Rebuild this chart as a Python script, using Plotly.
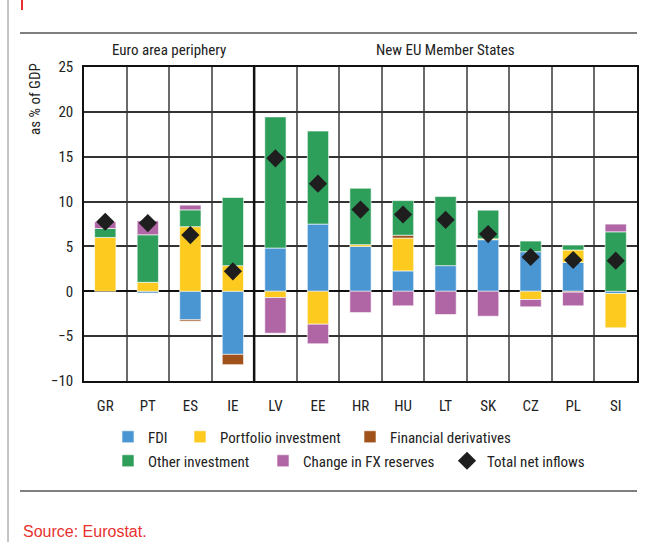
import plotly.graph_objects as go

categories = ["GR", "PT", "ES", "IE", "LV", "EE", "HR", "HU", "LT", "SK", "CZ", "PL", "SI"]
fdi = [0, -0.2, -3.18, -7.03, 4.82, 7.49, 5.0, 2.27, 2.86, 5.75, 4.41, 3.22, -0.25]
portfolio = [6.0, 1.0, 7.2, 2.86, -0.7, -3.67, 0.2, 3.66, 0, 0.1, -0.92, 1.38, -3.82]
derivatives = [0, 0, -0.15, -1.15, 0, 0, 0, 0.32, 0, 0, 0, -0.1, 0]
other = [1.0, 5.3, 1.88, 7.59, 14.62, 10.37, 6.29, 3.86, 7.7, 3.19, 1.19, 0.55, 6.63]
fx_reserves = [0.75, 1.55, 0.52, 0, -3.97, -2.18, -2.37, -1.62, -2.59, -2.78, -0.81, -1.52, 0.86]
total = [7.75, 7.6, 6.27, 2.22, 14.82, 12.0, 9.11, 8.56, 7.97, 6.38, 3.82, 3.49, 3.41]
y_ticks = [-10, -5, 0, 5, 10, 15, 20, 25]
group_labels = ["Euro area periphery", "New EU Member States"]

FONT = "Liberation Sans Narrow, Roboto Condensed, DejaVu Sans Condensed, Arial Narrow, sans-serif"
xs = list(range(len(categories)))

W, H = 646, 542
L, R, T, B = 84, 9, 67, 161
pw, ph = W - L - R, H - T - B

def px(x):
    return (x - L) / pw

def py(y):
    return (H - B - y) / ph

def cx(x):
    return x / W

def cy(y):
    return (H - y) / H

def nz(v):
    return [None if a == 0 else a for a in v]

# (name, values, colour, legend id, legend symbol centre in px (x, y))
series = [
    ("FDI", fdi, "#4A96D2", "legend", (129, 437)),
    ("Portfolio investment", portfolio, "#FDCB1F", "legend2", (201, 437)),
    ("Financial derivatives", derivatives, "#A0521A", "legend3", (371, 437)),
    ("Other investment", other, "#2E9E5B", "legend4", (129, 461)),
    ("Change in FX reserves", fx_reserves, "#B065A5", "legend5", (284, 461)),
]
total_legend = ("legend6", (468, 461))

fig = go.Figure()
for name, vals, col, lg, _ in series:
    fig.add_trace(go.Bar(
        x=xs, y=nz(vals), name=name, width=0.5,
        marker=dict(color=col, line=dict(color="rgba(255,255,255,0.6)", width=1)),
        legend=lg,
    ))
fig.add_trace(go.Scatter(
    x=xs, y=total, name="Total net inflows", mode="markers",
    marker=dict(symbol="diamond", size=14, color="#1E1E1E"),
    legend=total_legend[0],
))

def leg(pos):
    return dict(orientation="h", xref="container", yref="container", xanchor="left", yanchor="middle",
                x=cx(pos[0] - 21), y=cy(pos[1]),
                font=dict(family=FONT, size=15, color="#222"),
                itemwidth=30, bgcolor="rgba(0,0,0,0)")

legends = {lg: leg(pos) for _, _, _, lg, pos in series}
legends[total_legend[0]] = leg(total_legend[1])

fig.update_layout(
    width=W, height=H,
    margin=dict(l=L, r=R, t=T, b=B, autoexpand=False),
    paper_bgcolor="white", plot_bgcolor="white",
    barmode="relative",
    font=dict(family=FONT, size=15, color="#222"),
    showlegend=True,
    xaxis=dict(
        range=[-0.5, len(categories) - 0.5],
        tickmode="array", tickvals=xs, ticktext=categories,
        showgrid=False, zeroline=False, ticks="", automargin=False,
        showline=True, linecolor="#111", linewidth=1.5, mirror=True,
        tickfont=dict(family=FONT, size=15, color="#222"),
        ticklabelstandoff=10,
        minor=dict(tick0=0.5, dtick=1, showgrid=True, gridcolor="#6a6a6a", gridwidth=1.5, ticks=""),
    ),
    yaxis=dict(
        range=[-10, 25], tickmode="array", tickvals=y_ticks,
        ticktext=[("\u2212" + str(abs(v))) if v < 0 else str(v) for v in y_ticks],
        showgrid=True, gridcolor="#333", gridwidth=1.5, automargin=False,
        zeroline=True, zerolinecolor="#111", zerolinewidth=1.5,
        showline=True, linecolor="#111", linewidth=1.5, mirror=True, ticks="",
        tickfont=dict(family=FONT, size=15, color="#222"),
        ticklabelstandoff=6,
    ),
    **legends,
)

# separator between groups
fig.add_shape(type="line", xref="x", yref="paper", x0=3.5, x1=3.5, y0=0, y1=1,
              line=dict(color="#111", width=2.5), layer="above")

# frame decoration
fig.add_shape(type="line", xref="paper", yref="paper", x0=px(20), x1=px(637), y0=py(33), y1=py(33),
              line=dict(color="#555", width=1.5))
fig.add_shape(type="line", xref="paper", yref="paper", x0=px(20), x1=px(637), y0=py(491), y1=py(491),
              line=dict(color="#555", width=1.5))
fig.add_shape(type="line", xref="paper", yref="paper", x0=px(8), x1=px(8), y0=py(0), y1=py(542),
              line=dict(color="#888", width=1))
fig.add_shape(type="line", xref="paper", yref="paper", x0=px(22), x1=px(22), y0=py(0), y1=py(10),
              line=dict(color="#E8312F", width=2))

# group labels
fig.add_annotation(x=1.5, xref="x", y=py(50), yref="paper", text=group_labels[0], showarrow=False,
                   font=dict(family=FONT, size=15, color="#222"), yanchor="middle")
fig.add_annotation(x=8, xref="x", y=py(50), yref="paper", text=group_labels[1], showarrow=False,
                   font=dict(family=FONT, size=15, color="#222"), yanchor="middle")

# y title
fig.add_annotation(x=px(35), xref="paper", y=py(99), yref="paper", text="as % of GDP", textangle=-90,
                   showarrow=False, font=dict(family=FONT, size=15, color="#222"),
                   xanchor="center", yanchor="middle")

# source
fig.add_annotation(x=px(21), xref="paper", y=py(531), yref="paper", text="Source: Eurostat.",
                   showarrow=False, xanchor="left", yanchor="middle",
                   font=dict(family="Liberation Sans, Arial, sans-serif", size=16, color="#E8312F"))

fig.write_html("out.html", config={"displayModeBar": False},
               post_script="document.body.style.margin='0px';")
